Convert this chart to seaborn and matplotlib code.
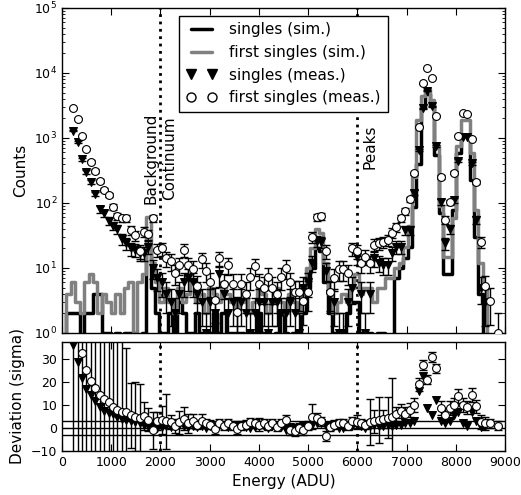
import numpy as np
import matplotlib
matplotlib.use("Agg")
import matplotlib.pyplot as plt
from matplotlib.lines import Line2D
import seaborn as sns

nan = np.nan

# histogram bins (ADU), 90 ADU wide
bin_width = 90
energy = np.arange(100) * bin_width + bin_width / 2

# simulated spectra (counts per bin)
sim_single = [0, 2, 2, 2, 0, 2, 2, 4, 4, 1,
              1, 0, 1, 0, 1, 1, 1, 0, 1, 20,
              5, 2, 1, 1, 2, 1, 3, 2, 1, 1,
              2, 1, 1, 1, 2, 1, 2, 1, 1, 1,
              1, 0, 1, 1, 2, 1, 1, 0, 1, 2,
              1, 0, 1, 1, 2, 5, 10, 20, 18, 6,
              2, 1, 0, 1, 2, 3, 3, 1, 1, 1,
              0, 1, 1, 0, 0, 7, 10, 14, 21, 88,
              400, 3000, 4800, 3200, 550, 70, 8, 8, 78, 580,
              1100, 1100, 226, 30, 4, 0, 0, 0, 0, 0]
sim_first = [0, 4, 6, 3, 2, 6, 8, 6, 2, 4,
             3, 2, 4, 2, 5, 6, 1, 6, 8, 60,
             12, 6, 3, 5, 3, 2, 5, 3, 4, 6,
             3, 4, 2, 5, 4, 3, 6, 4, 3, 2,
             3, 4, 2, 3, 5, 4, 2, 3, 5, 3,
             2, 4, 3, 2, 4, 10, 20, 40, 35, 12,
             4, 2, 3, 4, 3, 5, 8, 4, 5, 5,
             3, 5, 5, 7, 7, 10, 12, 21, 45, 253,
             1900, 4450, 5600, 3800, 740, 90, 15, 15, 58, 740,
             1900, 1900, 580, 78, 12, 5, 0, 0, 0, 0]

# measured spectra (counts per bin)
meas_single = [nan, nan, 1300, 880, 470, 300, 210, 138, 80, 69,
               53, 45, 40, 28, 24, 20, 19, 17, 17, 21,
               10, 7, 6, 4, 3, 2, 4, 6, 7, 6,
               4, 3, 1, 3, 2, 8, 4, 2, 3, 2,
               3, 2, 1, 2, 3, 3, 1, 3, 3, 2,
               2, 3, 2, 1, 5, 6, 12, 26, 25, 9,
               4, 3, 1, 1, 3, 5, 15, 4, 1, 4,
               14, 12, 11, 11, 17, 21, 21, 38, 38, 144,
               650, 2850, 5350, 3100, 750, 105, 24, 40, 110, 447,
               1050, 1050, 407, 55, 5, 3, nan, nan, nan, nan]
meas_first = [nan, nan, 2870, 1950, 1070, 680, 433, 310, 218, 158,
              133, 88, 63, 58, 58, 38, 32, 18, 36, 33,
              58, 19, 20, 14, 12.6, 8.3, 11, 19, 11, 9.5,
              5.2, 13.6, 9, 6, 3.2, 14, 5.7, 11, 5.7, 2.1,
              5.7, 4, 7.3, 10.7, 5.7, 5, 7.3, 5, 4, 7.3,
              10, 6, 4.2, 4.2, 3.1, 4.2, 30, 60, 63, 18,
              4.2, 7, 9.5, 9.5, 8.3, 20, 18, 11.8, 15, 11.8,
              22.7, 24, 25, 27, 35, 42, 58, 74, 114, 286,
              1490, 6920, 12000, 8500, 2180, 253, 55, 102, 293, 1090,
              2400, 2350, 980, 212, 25, 5.2, 3.1, nan, 1, nan]

# deviation between measurement and simulation (sigma)
dev_single = [nan, nan, 36, 29, 22, 17.2, 14.5, 12, 9, 7.6,
              6.7, 6, 4.8, 4, 3.5, 3, 2.5, 2, 1.5, 1,
              0.5, 0, 0.5, 1, 0.5, 1, 1.5, 1, 0.5, 1,
              0.5, 1, 0, 1, 0.5, 1.5, 1, 0.5, 1, 0.5,
              1, 0.5, 0, 0.5, 1, 1, 0, 1, 1, 0.5,
              -1, 0.5, 0, -0.5, 1, 1, 1.5, 2, 2, 1,
              0.5, 1, 0, 0, 1, 1, 1.5, 1, 0, 1,
              1.5, 1, 1, 1.5, 1, 1.5, 1.5, 2, 2, 3,
              16, 22.5, 8.7, 5.8, 12.4, 3.2, 2.3, 3.2, 5.8, 7,
              2.2, 1, 7, 3, 0.4, 1, nan, nan, nan, nan]
dev_first = [nan, nan, 45, 40, 32.5, 25.4, 20.7, 17.3, 14.3, 12.5,
             11.2, 9.2, 8, 7.2, 7, 5.5, 5, 4.3, 5.3, 3.6,
             -1, 3, 3.5, 3, 2.5, 1, 2.5, 4, 2, 3,
             1.5, 3, 2, 1.5, -0.5, 2, 1, 2, 1, -0.5,
             1, 1.5, 2.5, 2, 1.5, 2, 1, 2, 0.5, 2,
             3.5, -1, -1.5, 0, -1, 1, 5, 4.5, 3, -3.5,
             0.5, 1.5, 2, 2, 1, 3, 2.5, 2, 1.5, 2.5,
             3, 3.5, 4, 4.5, 5, 6, 7.5, 6, 8, 10,
             19, 27.5, 21, 31, 26, 8.7, 5.8, 8.7, 10.2, 13.8,
             10.2, 9, 14.5, 9.4, 2.5, 2, 2, nan, 1, nan]
dev_err = [nan, nan, 80, 80, 80, 80, 80, 80, 80, 80,
           80, 80, 80, 80, 28, 14, 15, 15, 6, 5,
           8, 4, 6, 12, 3, 3, 5, 5, 4, 3,
           2, 3, 2, 2, 2, 2, 2, 2, 2, 2,
           2, 2, 2, 2, 3, 2, 2, 2, 2, 2,
           2, 2, 2, 2, 2, 2, 5.5, 2, 2, 2,
           2, 2, 2, 2, 2, 2, 3, 2, 2, 10,
           5, 10, 4, 9, 17, 3, 3, 3, 3, 3,
           3, 2, 2, 2, 2, 3, 3, 3, 3, 3,
           3, 3, 3, 3, 3, 3, 2, nan, 2, nan]

labels = ["singles (sim.)", "first singles (sim.)",
          "singles (meas.)", "first singles (meas.)"]
region_lines = [2000, 6000]

sns.set_style("ticks", {"xtick.direction": "in", "ytick.direction": "in",
                        "axes.edgecolor": "black", "text.color": "black",
                        "axes.labelcolor": "black", "xtick.color": "black",
                        "ytick.color": "black"})
plt.rcParams["font.family"] = ["DejaVu Sans"]
plt.rcParams["xtick.labelsize"] = 9
plt.rcParams["ytick.labelsize"] = 9

fig = plt.figure(figsize=(5.21, 4.95), dpi=100)
ax1 = fig.add_axes([0.119, 0.3273, 0.8503, 0.6566])
ax2 = fig.add_axes([0.119, 0.0889, 0.8503, 0.2202])

# top panel: spectra
sns.lineplot(x=energy, y=sim_single, ax=ax1, color="black", lw=2.5,
             drawstyle="steps-mid", legend=False, zorder=2)
sns.lineplot(x=energy, y=sim_first, ax=ax1, color="gray", lw=2.5,
             drawstyle="steps-mid", legend=False, zorder=2)
ms = np.array(meas_single)
mf = np.array(meas_first)
ax1.errorbar(energy, ms, yerr=np.sqrt(ms), fmt="none", ecolor="black",
             elinewidth=1, capsize=3, zorder=3)
ax1.errorbar(energy, mf, yerr=np.sqrt(mf), fmt="none", ecolor="black",
             elinewidth=1, capsize=3, zorder=3)
sns.scatterplot(x=energy, y=ms, ax=ax1, marker="v", color="black",
                edgecolor="black", s=32, linewidth=0.8, zorder=4)
sns.scatterplot(x=energy, y=mf, ax=ax1, marker="o", color="white",
                edgecolor="black", s=32, linewidth=0.8, zorder=5)
ax1.set_yscale("log")
ax1.set_ylim(1, 1e5)
ax1.set_xlim(0, 9000)
ax1.set_xticks(range(0, 9001, 1000))
ax1.set_xticklabels([])
ax1.set_ylabel("Counts", fontsize=11)
for xv in region_lines:
    ax1.axvline(xv, color="black", ls=":", lw=2, zorder=1)
ax1.text(2000, 490, "Background\nContinuum", rotation=90, ha="center",
         va="center", fontsize=11, linespacing=1.3)
ax1.text(6110, 725, "Peaks", rotation=90, ha="left", va="center", fontsize=11)

handles = [Line2D([], [], color="black", lw=2.5),
           Line2D([], [], color="gray", lw=2.5),
           Line2D([], [], ls="none", marker="v", color="black", ms=6.5),
           Line2D([], [], ls="none", marker="o", mfc="white", mec="black", ms=6.5)]
ax1.legend(handles, labels, loc="upper center", numpoints=2, fancybox=False,
           framealpha=1, edgecolor="black", fontsize=11, borderpad=0.45,
           labelspacing=0.5, handlelength=2.0)

# bottom panel: deviation
ax2.errorbar(energy, dev_first, yerr=dev_err, fmt="none", ecolor="black",
             elinewidth=1, capsize=3, zorder=3)
sns.scatterplot(x=energy, y=dev_single, ax=ax2, marker="v", color="black",
                edgecolor="black", s=32, linewidth=0.8, zorder=4)
sns.scatterplot(x=energy, y=dev_first, ax=ax2, marker="o", color="white",
                edgecolor="black", s=32, linewidth=0.8, zorder=5)
for yv in [-3, 0, 3]:
    ax2.axhline(yv, color="black", lw=1, zorder=2)
for xv in region_lines:
    ax2.axvline(xv, color="black", ls=":", lw=2, zorder=1)
ax2.set_xlim(0, 9000)
ax2.set_ylim(-10, 37.5)
ax2.set_xticks(range(0, 9001, 1000))
ax2.set_yticks([-10, 0, 10, 20, 30])
ax2.set_xlabel("Energy (ADU)", fontsize=11)
ax2.set_ylabel("Deviation (sigma)", fontsize=11)

for ax in (ax1, ax2):
    ax.tick_params(which="both", direction="in", top=True, right=True)
    ax.tick_params(which="major", length=5, width=0.8)
    ax.tick_params(which="minor", length=2.5, width=0.6)
    for sp in ax.spines.values():
        sp.set_linewidth(1)

fig.savefig("out.png", dpi=100)
plt.close(fig)
